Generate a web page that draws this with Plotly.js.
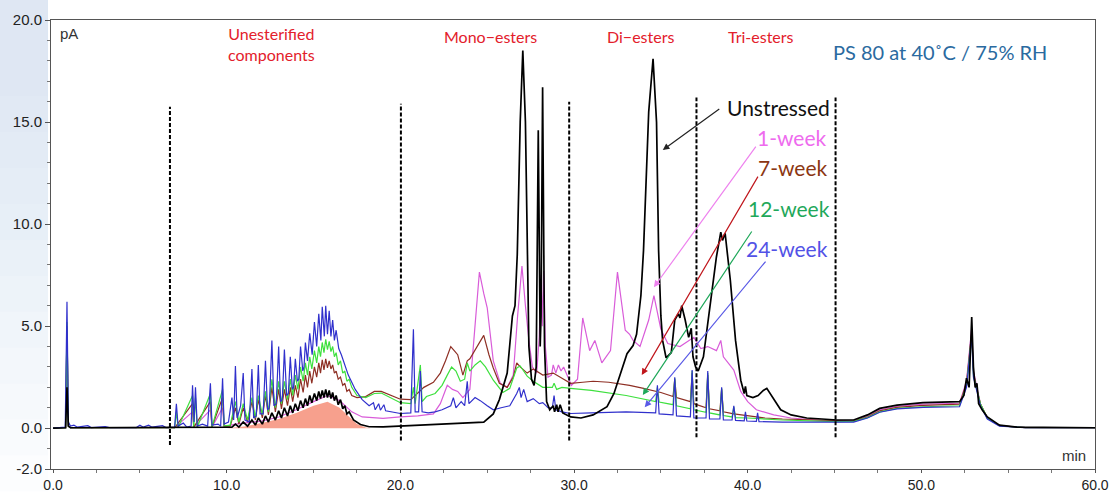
<!DOCTYPE html>
<html>
<head>
<meta charset="utf-8">
<script src="https://cdn.plot.ly/plotly-3.0.1.min.js"></script>
<style>html,body{margin:0;padding:0;background:#fff;}#chart{width:1114px;height:493px;}</style>
</head>
<body>
<div id="chart"></div>
<script>
// ---- Data: [retention time (min), signal (pA)] ----
const unstressed = [[0,0],[0.72,0.02],[0.8,2.0],[0.88,0.1],[1.0,0.02],[5,0.02],[10.0,0.03],
[10.3,0.05],[10.5,0.2],[10.7,0.05],[10.95,0.3],[11.2,0.1],[11.45,0.4],[11.65,0.15],[11.82,0.5],[12.05,0.2],[12.23,0.6],[12.4,0.3],[12.6,0.75],[12.8,0.4],[12.99,0.85],[13.15,0.5],[13.32,1.0],[13.5,0.6],[13.66,1.1],[13.8,0.75],[13.95,1.2],[14.1,0.85],[14.25,1.35],[14.4,1.0],[14.53,1.45],[14.65,1.1],[14.78,1.6],[14.9,1.25],[15.05,1.7],[15.18,1.35],[15.3,1.8],[15.4,1.45],[15.5,1.85],[15.6,1.5],[15.7,1.9],[15.8,1.5],[15.9,1.85],[16.0,1.45],[16.1,1.75],[16.2,1.35],[16.3,1.6],[16.42,1.15],[16.55,1.4],[16.68,0.95],[16.8,1.1],[16.92,0.7],[17.05,0.8],[17.3,0.4],[17.7,0.18],[18.2,0.07],[19,0.06],[20,0.1],[21,0.14],[22,0.17],[23,0.2],[24,0.24],[24.8,0.3],[25.35,0.7],[25.7,1.4],[26.15,2.7],[26.35,4.5],[26.45,5.5],[26.6,6.0],[26.73,8.5],[26.9,15.0],[27.05,18.5],[27.2,15.0],[27.3,8.5],[27.4,4.0],[27.55,2.4],[27.7,2.1],[27.82,3.0],[27.94,14.6],[28.05,4.0],[28.1,5.5],[28.19,16.7],[28.3,4.0],[28.42,1.3],[28.6,0.9],[28.8,1.1],[28.88,0.8],[29.0,1.15],[29.08,0.8],[29.2,1.15],[29.35,0.75],[29.8,0.55],[30.4,0.5],[31.1,0.65],[31.9,1.05],[32.3,1.7],[32.7,2.7],[33.05,3.65],[33.4,4.05],[33.6,4.6],[33.85,6.5],[34.0,8.7],[34.3,15.5],[34.55,18.1],[34.75,15.0],[34.87,8.7],[35.0,5.5],[35.1,4.3],[35.3,3.45],[35.6,3.7],[35.8,5.3],[36.0,5.6],[36.1,5.4],[36.2,6.0],[36.4,5.3],[36.6,4.45],[36.75,4.9],[36.85,3.5],[37.0,3.0],[37.15,2.8],[37.45,3.5],[37.7,5.1],[38.0,7.0],[38.2,8.4],[38.45,9.6],[38.55,9.2],[38.7,9.55],[39.0,7.25],[39.3,4.3],[39.6,2.35],[39.8,1.7],[39.87,2.05],[39.95,1.6],[40.3,1.5],[40.6,1.6],[40.9,1.85],[41.1,1.95],[41.5,1.45],[41.9,0.9],[42.5,0.65],[43.4,0.5],[45.15,0.4],[46.1,0.4],[46.9,0.65],[47.6,0.97],[48.6,1.13],[50.1,1.25],[52.2,1.3],[52.45,1.6],[52.6,2.45],[52.75,2.0],[52.9,5.45],[53.0,3.0],[53.1,2.0],[53.2,2.2],[53.3,1.2],[53.5,0.9],[53.8,0.55],[54.5,0.15],[55.5,0.05],[60,0.02]];

const week1 = [[0,0],[0.72,0.02],[0.8,5.0],[0.88,0.1],[1.0,0.02],[7,0.02],[8.03,0.8],[8.1,0.05],[9.06,0.9],[9.15,0.05],[9.76,1.0],[9.85,0.08],[10.5,0.2],[12,0.35],[13,0.55],[14,0.9],[15,1.3],[15.8,1.6],[16.5,1.35],[17.2,0.8],[17.8,0.55],[19,0.48],[20,0.55],[21,0.6],[21.9,0.7],[22.3,1.2],[22.7,2.1],[23.0,1.9],[23.3,1.8],[23.6,1.5],[24.0,1.9],[24.25,4.5],[24.55,7.65],[24.8,6.6],[25.0,5.9],[25.35,3.3],[25.75,2.2],[26.15,2.0],[26.5,2.6],[26.75,5.5],[27.0,7.95],[27.2,6.0],[27.4,4.3],[27.6,3.0],[27.85,2.7],[28.0,4.5],[28.1,7.5],[28.17,5.0],[28.25,7.7],[28.35,4.0],[28.5,2.5],[28.7,2.6],[28.8,3.1],[28.95,2.7],[29.1,3.1],[29.25,2.8],[29.4,3.0],[29.65,2.5],[29.85,2.1],[30.2,2.4],[30.5,5.4],[30.9,3.8],[31.2,4.3],[31.6,3.2],[32.1,3.8],[32.5,7.65],[32.95,4.8],[33.2,4.6],[33.4,4.3],[33.8,4.0],[34.3,5.3],[34.6,6.5],[35.0,4.85],[35.4,4.15],[36.1,4.0],[36.9,4.45],[37.3,3.9],[37.7,4.0],[38.2,3.8],[38.45,4.3],[38.6,3.5],[39.2,2.85],[39.6,1.8],[40.0,1.3],[40.5,0.9],[41.5,0.65],[42.5,0.5],[45.15,0.32],[46.1,0.35],[46.9,0.6],[47.6,0.9],[48.6,1.07],[50.1,1.18],[52.2,1.22],[52.6,2.3],[52.9,4.9],[53.0,2.8],[53.2,2.0],[53.4,1.2],[53.8,0.5],[54.5,0.13],[56,0.03],[60,0.02]];

const week7 = [[0,0],[0.72,0.02],[0.8,5.0],[0.88,0.1],[1.0,0.02],[7,0.02],[8.03,1.2],[8.1,0.05],[9.06,1.3],[9.15,0.05],[9.76,1.5],[9.85,0.1],[10.2,0.1],[10.5,1.0],[10.7,0.2],[10.95,1.0],[11.2,0.3],[11.45,1.3],[11.65,0.4],[11.82,1.4],[12.05,0.5],[12.23,1.6],[12.4,0.65],[12.6,2.0],[12.8,0.8],[12.99,1.9],[13.15,0.95],[13.32,1.9],[13.5,1.1],[13.66,2.0],[13.8,1.3],[13.95,2.1],[14.1,1.5],[14.25,2.4],[14.4,1.75],[14.53,2.6],[14.65,2.0],[14.78,2.8],[14.9,2.2],[15.05,3.0],[15.18,2.5],[15.3,3.2],[15.4,2.7],[15.5,3.35],[15.6,2.85],[15.7,3.4],[15.8,2.95],[15.9,3.3],[16.0,2.9],[16.1,3.1],[16.2,2.7],[16.3,2.8],[16.42,2.4],[16.55,2.5],[16.68,2.1],[16.8,2.2],[16.92,1.8],[17.05,1.9],[17.2,1.6],[17.5,1.5],[18.0,1.55],[18.5,1.8],[18.9,1.8],[19.5,1.6],[20.0,1.42],[20.6,1.4],[21.0,1.7],[21.35,2.0],[21.9,2.25],[22.3,2.7],[22.6,3.3],[22.9,4.0],[23.1,3.8],[23.3,3.6],[23.6,2.6],[23.85,3.3],[24.0,3.4],[24.4,4.0],[24.8,4.55],[25.1,3.6],[25.35,2.95],[25.7,2.2],[26.15,2.0],[26.5,2.5],[26.7,3.2],[26.9,3.0],[27.3,2.7],[27.65,2.9],[28.2,2.6],[28.8,2.7],[29.2,2.5],[29.8,2.2],[30.5,2.25],[31.1,2.3],[32.0,2.25],[33.2,2.1],[34.0,1.95],[35.0,1.75],[35.7,1.55],[35.8,2.4],[35.9,1.5],[36.7,1.3],[36.8,2.7],[36.9,1.2],[37.6,1.0],[37.7,2.6],[37.8,0.95],[38.4,0.85],[38.5,1.9],[38.6,0.8],[39.2,0.7],[40.0,0.6],[41,0.5],[42,0.45],[45,0.35],[46.1,0.35],[46.9,0.55],[47.6,0.85],[48.6,1.02],[50.1,1.12],[52.2,1.18],[52.6,2.2],[52.9,4.7],[53.0,2.7],[53.2,1.9],[53.4,1.2],[53.8,0.5],[54.5,0.12],[56,0.03],[60,0.02]];

const week12 = [[0,0],[0.72,0.02],[0.8,5.2],[0.88,0.1],[1.0,0.02],[7,0.02],[7.1,0.8],[7.2,0.03],[8.03,1.6],[8.1,0.05],[8.2,1.5],[8.3,0.05],[9.06,1.7],[9.15,0.05],[9.76,1.9],[9.85,0.1],[10.2,0.15],[10.5,1.3],[10.7,0.3],[10.95,1.2],[11.2,0.4],[11.45,1.5],[11.65,0.5],[11.82,1.6],[12.05,0.65],[12.23,1.8],[12.4,0.8],[12.6,2.4],[12.8,1.0],[12.99,2.3],[13.15,1.2],[13.32,2.3],[13.5,1.4],[13.66,2.4],[13.8,1.6],[13.95,2.6],[14.1,1.9],[14.25,3.0],[14.4,2.3],[14.53,3.2],[14.65,2.6],[14.78,3.5],[14.9,2.9],[15.05,3.8],[15.18,3.2],[15.3,4.0],[15.4,3.5],[15.5,4.2],[15.6,3.7],[15.7,4.35],[15.8,3.85],[15.9,4.25],[16.0,3.75],[16.1,4.0],[16.2,3.5],[16.3,3.7],[16.42,3.1],[16.55,3.3],[16.68,2.7],[16.8,2.8],[16.92,2.3],[17.05,2.4],[17.2,2.0],[17.5,1.6],[18.0,1.5],[18.5,1.7],[18.9,1.72],[19.5,1.45],[20.0,1.25],[20.6,1.2],[20.75,2.0],[20.85,1.2],[21.15,3.1],[21.25,1.3],[21.5,1.55],[22.0,1.7],[22.4,2.1],[22.7,2.6],[22.95,3.0],[23.2,2.8],[23.45,2.3],[23.7,2.4],[23.85,3.2],[24.0,2.8],[24.3,3.1],[24.6,3.3],[24.9,3.0],[25.35,2.35],[25.9,1.75],[26.3,1.95],[26.7,2.95],[26.9,3.05],[27.3,2.55],[27.65,2.3],[28.2,2.0],[28.75,2.0],[28.85,2.2],[29.0,1.9],[29.3,2.0],[29.8,1.95],[31,1.85],[33,1.6],[34.7,1.3],[34.8,2.0],[34.9,1.28],[35.7,1.15],[35.8,2.45],[35.9,1.1],[36.7,0.95],[36.8,2.8],[36.9,0.9],[37.6,0.78],[37.7,2.7],[37.8,0.75],[38.4,0.65],[38.5,1.95],[38.6,0.62],[39.1,0.55],[39.2,1.05],[39.3,0.52],[40.0,0.5],[42,0.4],[45,0.32],[46.1,0.33],[46.9,0.52],[47.6,0.8],[48.6,0.97],[50.1,1.05],[52.2,1.1],[52.6,2.1],[52.9,4.6],[53.0,2.6],[53.2,1.9],[53.4,1.2],[53.8,0.5],[54.5,0.12],[56,0.03],[60,0.02]];

const week24 = [[0,0],[0.7,0.05],[0.8,6.2],[0.88,0.3],[1.0,0.1],[1.2,0.15],[1.4,0.05],[2.0,0.12],[2.2,0.03],[3.0,0.08],[3.3,0.02],[4.8,0.03],[5.0,0.15],[5.2,0.05],[5.5,0.15],[5.7,0.05],[6.3,0.12],[6.5,0.03],[7.0,0.05],[7.1,1.2],[7.2,0.1],[7.5,0.25],[7.7,0.05],[7.95,0.1],[8.03,2.1],[8.12,0.3],[8.2,2.0],[8.3,0.1],[8.6,0.2],[8.9,0.1],[9.06,2.2],[9.15,0.15],[9.5,0.2],[9.65,0.1],[9.76,2.45],[9.85,0.2],[10.1,0.3],[10.3,1.5],[10.4,0.4],[10.5,3.05],[10.6,0.5],[10.8,1.1],[10.95,2.7],[11.05,0.4],[11.3,0.3],[11.45,2.9],[11.55,0.5],[11.7,0.6],[11.82,3.1],[11.92,0.7],[12.1,0.7],[12.23,3.3],[12.35,0.9],[12.45,1.0],[12.6,4.3],[12.72,1.1],[12.85,1.2],[12.99,4.0],[13.1,1.3],[13.2,1.4],[13.32,3.85],[13.45,1.6],[13.55,1.7],[13.66,3.5],[13.78,1.9],[13.85,2.0],[13.95,3.4],[14.07,2.3],[14.15,2.4],[14.25,4.0],[14.38,2.8],[14.45,3.0],[14.53,4.2],[14.65,3.3],[14.78,4.65],[14.92,3.6],[15.05,5.2],[15.18,4.0],[15.3,5.6],[15.42,4.3],[15.5,5.95],[15.62,4.5],[15.7,6.0],[15.8,4.6],[15.9,5.75],[16.0,4.5],[16.1,5.3],[16.2,4.3],[16.3,4.8],[16.45,3.9],[16.6,3.6],[16.8,3.1],[17.0,2.6],[17.4,1.9],[17.8,1.4],[18.2,1.1],[18.45,1.25],[18.55,0.9],[18.75,1.2],[18.85,0.88],[19.05,1.15],[19.15,0.85],[19.5,0.8],[20.0,0.72],[20.6,0.75],[20.75,4.85],[20.85,0.8],[21.05,0.8],[21.15,2.8],[21.25,0.8],[21.6,0.75],[22.0,0.8],[22.4,0.9],[22.7,1.0],[22.9,1.1],[23.05,1.5],[23.2,1.0],[23.5,1.3],[23.7,1.1],[23.85,2.3],[23.95,1.2],[24.3,1.5],[24.6,1.35],[25.0,1.1],[25.35,0.9],[25.8,1.0],[26.3,1.1],[26.7,1.7],[26.85,2.0],[26.95,1.5],[27.1,1.9],[27.3,1.3],[27.65,1.45],[28.0,1.2],[28.2,1.25],[28.5,1.0],[28.75,1.0],[28.85,1.6],[28.95,0.9],[29.3,0.8],[29.8,0.72],[31,0.75],[33,0.8],[34.7,0.75],[34.8,2.1],[34.9,0.7],[35.7,0.65],[35.8,2.5],[35.9,0.6],[36.7,0.55],[36.8,2.85],[36.9,0.5],[37.6,0.5],[37.7,2.8],[37.8,0.45],[38.4,0.45],[38.5,2.0],[38.6,0.4],[39.1,0.4],[39.2,1.1],[39.3,0.38],[39.8,0.36],[39.87,0.8],[39.95,0.35],[40.5,0.33],[40.57,0.75],[40.65,0.32],[42,0.3],[45,0.3],[46.1,0.3],[46.9,0.5],[47.6,0.78],[48.6,0.95],[50.1,1.02],[52.2,1.05],[52.6,2.0],[52.9,4.5],[53.0,2.5],[53.2,1.8],[53.4,1.1],[53.8,0.45],[54.5,0.1],[56,0.03],[60,0.02]];

// shaded area under the unstressed unesterified hump
const unstressedHumpArea = [[10.0,0],[11.0,0.08],[12.0,0.25],[13.0,0.45],[14.0,0.75],[15.0,1.1],[15.8,1.3],[16.5,1.0],[17.0,0.6],[17.5,0.2],[18.0,0.03],[18.3,0]];

// region boundaries (min)
const boundaries = [6.73, 20.03, 29.72, 37.05, 45.06];
const regionLabels = ["Unesterified<br>components", "Mono\u2212esters", "Di\u2212esters", "Tri-esters"];
const xTicks = [0, 10, 20, 30, 40, 50, 60];
const yTicks = [-2, 0, 5, 10, 15, 20];

const xs = a => a.map(p => p[0]);
const ys = a => a.map(p => p[1]);

const traces = [
  {x: xs(unstressedHumpArea), y: ys(unstressedHumpArea), type: 'scatter', mode: 'lines', fill: 'tozeroy',
   fillcolor: '#f7a08d', line: {width: 0, color: '#f7a08d'}, hoverinfo: 'skip'},
  {x: xs(week1), y: ys(week1), name: '1-week', type: 'scatter', mode: 'lines', line: {color: '#d95cd9', width: 1.2}},
  {x: xs(week7), y: ys(week7), name: '7-week', type: 'scatter', mode: 'lines', line: {color: '#8e2f24', width: 1.2}},
  {x: xs(week12), y: ys(week12), name: '12-week', type: 'scatter', mode: 'lines', line: {color: '#3ee03e', width: 1.2}},
  {x: xs(week24), y: ys(week24), name: '24-week', type: 'scatter', mode: 'lines', line: {color: '#3030cc', width: 1.2}},
  {x: xs(unstressed), y: ys(unstressed), name: 'Unstressed', type: 'scatter', mode: 'lines', line: {color: '#000000', width: 1.7}}
];

const shapes = [];
// light blue gradient band behind y tick labels
for (let i = 0; i < 12; i++) {
  shapes.push({type: 'rect', xref: 'paper', yref: 'paper', x0: -0.049, x1: -0.003,
    y0: -0.05 + i * 0.08, y1: 1.045, fillcolor: 'rgba(175,200,235,0.045)', line: {width: 0}, layer: 'below'});
}
const bTop = [15.75, 15.9, 16.0, 16.2, 16.2];
const bBot = [-0.83, -0.6, -0.6, -0.45, -0.45];
boundaries.forEach((b, i) => {
  shapes.push({type: 'line', xref: 'x', yref: 'y', x0: b, x1: b, y0: bBot[i], y1: bTop[i],
    line: {color: '#000', width: 2, dash: '4px,2px'}});
});

const red = '#e3202b';
const annFont = 'Lato, "Open Sans", sans-serif';
const annotations = [
  {x: 12.55, y: 18.8, text: regionLabels[0], font: {family: annFont, size: 16, color: red}},
  {x: 25.2, y: 19.17, text: regionLabels[1], font: {family: annFont, size: 16, color: red}},
  {x: 33.8, y: 19.17, text: regionLabels[2], font: {family: annFont, size: 16, color: red}},
  {x: 40.75, y: 19.17, text: regionLabels[3], font: {family: annFont, size: 16, color: red}},
  {x: 51.1, y: 18.43, text: 'PS 80 at 40\u02daC / 75% RH', font: {family: annFont, size: 20, color: '#2a6aa0'}},
  {x: 44.85, y: 15.69, text: 'Unstressed', xanchor: 'right', font: {family: annFont, size: 21, color: '#111'}},
  {x: 44.7, y: 14.26, text: '1-week', xanchor: 'right', font: {family: annFont, size: 21, color: '#ee6bee'}},
  {x: 44.75, y: 12.75, text: '7-week', xanchor: 'right', font: {family: annFont, size: 21, color: '#8b3612'}},
  {x: 44.85, y: 10.78, text: '12-week', xanchor: 'right', font: {family: annFont, size: 21, color: '#1fa85a'}},
  {x: 44.75, y: 8.82, text: '24-week', xanchor: 'right', font: {family: annFont, size: 21, color: '#5252e6'}},
  {x: 0.3, y: 19.36, text: 'pA', xanchor: 'left', font: {family: 'Liberation Sans, Arial, sans-serif', size: 15, color: '#333'}},
  {x: 59.6, y: -1.32, text: 'min', xanchor: 'right', font: {family: 'Liberation Sans, Arial, sans-serif', size: 15, color: '#333'}}
].map(a => Object.assign({xref: 'x', yref: 'y', showarrow: false}, a));

const arrows = [
  {x: 35.11, y: 13.63, ax: 38.45, ay: 15.69, color: '#222'},
  {x: 34.6, y: 6.91, ax: 40.53, ay: 13.87, color: '#ee82ee'},
  {x: 33.9, y: 2.6, ax: 40.64, ay: 12.4, color: '#c0161c'},
  {x: 33.96, y: 1.62, ax: 40.29, ay: 9.71, color: '#1fa85a'},
  {x: 34.07, y: 1.03, ax: 41.1, ay: 8.24, color: '#5a5ae6'}
];
arrows.forEach(a => annotations.push({x: a.x, y: a.y, ax: a.ax, ay: a.ay, xref: 'x', yref: 'y', axref: 'x', ayref: 'y',
  text: '', showarrow: true, arrowhead: 2, arrowsize: 1.1, arrowwidth: 1.2, arrowcolor: a.color}));

const tickFont = {family: 'Liberation Sans, Arial, sans-serif', size: 15, color: '#222'};
const layout = {
  width: 1114, height: 493,
  margin: {l: 51, r: 19, t: 20, b: 24},
  paper_bgcolor: '#fff', plot_bgcolor: '#fff',
  showlegend: false,
  xaxis: {range: [-0.12, 60], tickmode: 'array', tickvals: xTicks, ticktext: xTicks.map(v => v.toFixed(1)),
    ticks: 'outside', ticklen: 3, tickcolor: '#555', showline: true, linecolor: '#555', linewidth: 1, mirror: true,
    showgrid: false, zeroline: false, tickfont: {family: tickFont.family, size: 14, color: tickFont.color},
    minor: {tick0: 0, dtick: 2.5, ticks: 'outside', ticklen: 3, tickcolor: '#777', showgrid: false}},
  yaxis: {range: [-2, 20], tickmode: 'array', tickvals: yTicks, ticktext: yTicks.map(v => v.toFixed(1)),
    ticks: 'outside', ticklen: 5, tickcolor: '#555', showline: true, linecolor: '#555', linewidth: 1, mirror: true,
    showgrid: false, zeroline: false, tickfont: tickFont,
    minor: {tick0: 0, dtick: 1, ticks: 'outside', ticklen: 3, tickcolor: '#777', showgrid: false}},
  shapes: shapes,
  annotations: annotations
};

Plotly.newPlot('chart', traces, layout, {displayModeBar: false, staticPlot: true});
</script>
</body>
</html>
